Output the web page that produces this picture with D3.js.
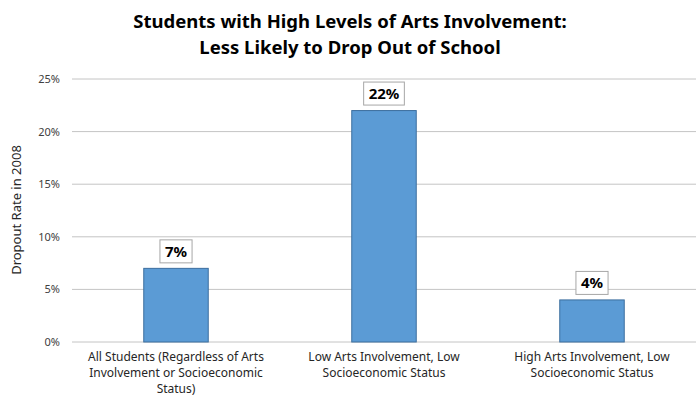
<!DOCTYPE html>
<html>
<head>
<meta charset="utf-8">
<script src="https://cdn.jsdelivr.net/npm/d3@7"></script>
<style>
  body { margin: 0; background: #fff; }
  text { font-family: "Noto Sans", "Open Sans", sans-serif; }
</style>
</head>
<body>
<svg id="chart"></svg>
<script>
// data
let categories = [
	['All Students (Regardless of Arts', 'Involvement or Socioeconomic', 'Status)'],
	['Low Arts Involvement, Low', 'Socioeconomic Status'],
	['High Arts Involvement, Low', 'Socioeconomic Status']
];
let values = [7, 22, 4];
let yTicks = [0, 5, 10, 15, 20, 25];
let titleLines = ['Students with High Levels of Arts Involvement:', 'Less Likely to Drop Out of School'];

let width = 699, height = 404;
let plotLeft = 72, plotRight = 696, plotTop = 79, plotBottom = 342;

let svg = d3.select('#chart')
	.attr('width', width)
	.attr('height', height);

let xScale = d3.scaleBand()
	.domain(d3.range(values.length))
	.range([plotLeft, plotRight])
	.paddingInner(0.69)
	.paddingOuter(0.345);

let yScale = d3.scaleLinear()
	.domain([0, 25])
	.range([plotBottom, plotTop]);

// gridlines
svg.append('g')
	.selectAll('line')
	.data(yTicks)
	.enter()
	.append('line')
	.attr('x1', plotLeft)
	.attr('x2', plotRight)
	.attr('y1', d => yScale(d))
	.attr('y2', d => yScale(d))
	.attr('stroke', '#c4c4c4')
	.attr('stroke-width', 1);

// y axis
let yAxis = d3.axisLeft(yScale)
	.tickValues(yTicks)
	.tickFormat(d => d + '%')
	.tickSize(0)
	.tickPadding(0);

let yAxisGroup = svg.append('g')
	.attr('transform', `translate(60,0)`)
	.call(yAxis);
yAxisGroup.select('.domain').remove();
yAxisGroup.selectAll('text')
	.style('font-size', '11px')
	.style('fill', '#404040')
	.style('font-family', '"Noto Sans", sans-serif');

// axis title
svg.append('text')
	.attr('transform', 'rotate(-90)')
	.attr('x', -210)
	.attr('y', 21)
	.style('text-anchor', 'middle')
	.style('font-size', '13px')
	.style('fill', '#262626')
	.text('Dropout Rate in 2008');

// bars
svg.selectAll('rect.bar')
	.data(values)
	.enter()
	.append('rect')
	.attr('class', 'bar')
	.attr('x', (d, i) => xScale(i))
	.attr('y', d => yScale(d))
	.attr('width', xScale.bandwidth())
	.attr('height', d => plotBottom - yScale(d))
	.attr('fill', '#5b9bd5')
	.attr('stroke', '#3c6e9e')
	.attr('stroke-width', 1);

// value labels with boxes
let labels = svg.selectAll('g.vlabel')
	.data(values)
	.enter()
	.append('g')
	.attr('class', 'vlabel')
	.attr('transform', (d, i) => `translate(${xScale(i) + xScale.bandwidth() / 2},${yScale(d) - 17})`);

labels.append('text')
	.attr('text-anchor', 'middle')
	.attr('dy', '0.35em')
	.style('font-size', '15px')
	.style('font-weight', 'bold')
	.style('fill', '#000')
	.text(d => d + '%');

labels.each(function() {
	let g = d3.select(this);
	let w = g.select('text').node().getComputedTextLength();
	g.insert('rect', 'text')
		.attr('x', -w / 2 - 5)
		.attr('y', -11.5)
		.attr('width', w + 10)
		.attr('height', 23)
		.attr('fill', '#fff')
		.attr('stroke', '#a6a6a6');
});

// category labels
categories.forEach((lines, i) => {
	let t = svg.append('text')
		.attr('x', xScale(i) + xScale.bandwidth() / 2)
		.attr('y', 361)
		.style('text-anchor', 'middle')
		.style('font-size', '12px')
		.style('fill', '#262626');
	lines.forEach((line, k) => {
		t.append('tspan')
			.attr('x', xScale(i) + xScale.bandwidth() / 2)
			.attr('dy', k === 0 ? 0 : 16)
			.text(line);
	});
});

// title
svg.selectAll('text.title')
	.data(titleLines)
	.enter()
	.append('text')
	.attr('class', 'title')
	.attr('x', 350)
	.attr('y', (d, i) => 28 + i * 26)
	.style('text-anchor', 'middle')
	.style('font-size', '18.5px')
	.style('font-weight', 'bold')
	.style('fill', '#000')
	.text(d => d);
</script>
</body>
</html>
